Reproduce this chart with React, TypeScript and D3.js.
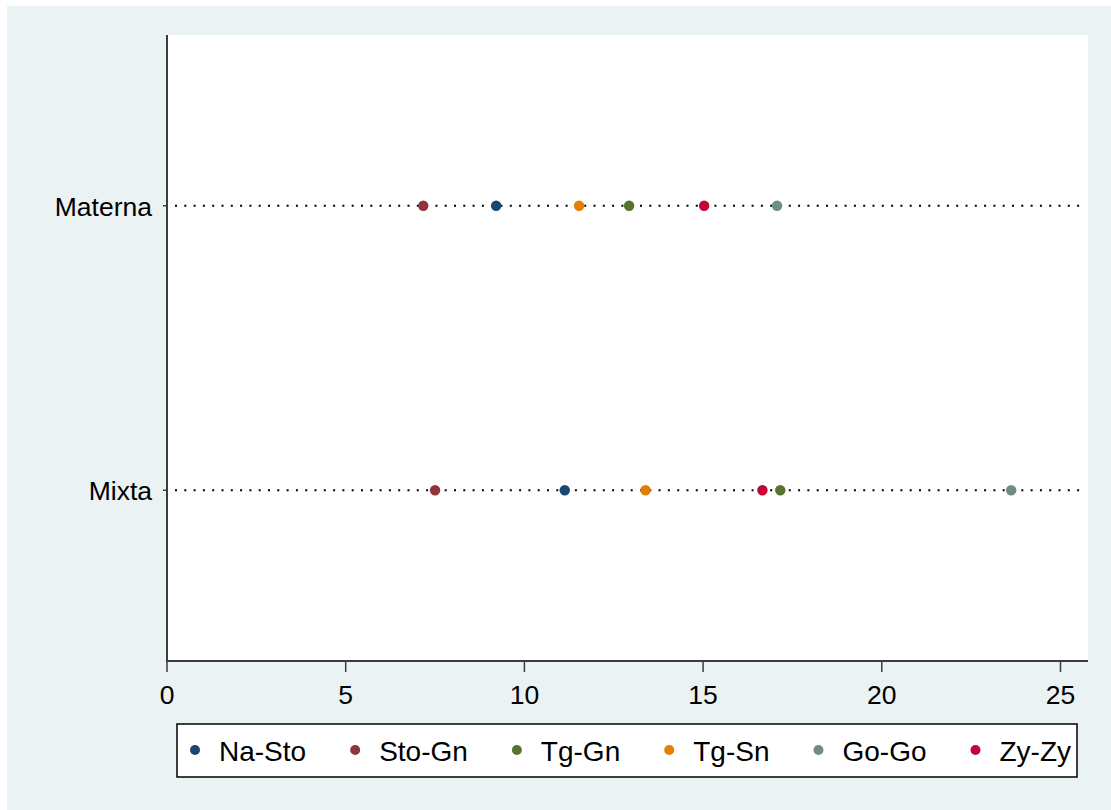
import React, { useEffect, useRef } from 'react';
import * as d3 from 'd3';

// categories on the y axis (top to bottom)
const groups = ['Materna', 'Mixta'];
// series, in legend order
const series = ['Na-Sto', 'Sto-Gn', 'Tg-Gn', 'Tg-Sn', 'Go-Go', 'Zy-Zy'];
const colors = ['#1a476f', '#90353b', '#55752f', '#e37e00', '#6e8e84', '#c10534'];
// values per series, [Materna, Mixta]
const naSto = [9.21, 11.13];
const stoGn = [7.17, 7.50];
const tgGn = [12.93, 17.16];
const tgSn = [11.53, 13.39];
const goGo = [17.07, 23.62];
const zyZy = [15.03, 16.66];
const xTicks = [0, 5, 10, 15, 20, 25];

const App = () => {
  const ref = useRef<SVGSVGElement>(null);

  useEffect(() => {
    const W = 1111, H = 810;
    const svg = d3.select(ref.current);
    svg.selectAll('*').remove();
    const font = '"Liberation Sans", Arial, sans-serif';

    // outer background
    svg.append('rect').attr('x', 7).attr('y', 6).attr('width', W - 7).attr('height', H - 6)
      .attr('fill', '#eaf2f3');

    const plot = { left: 167, right: 1088, top: 35, bottom: 661 };
    svg.append('rect').attr('x', plot.left).attr('y', plot.top)
      .attr('width', plot.right - plot.left).attr('height', plot.bottom - plot.top)
      .attr('fill', '#ffffff');

    const x = d3.scaleLinear().domain([0, 25.77]).range([plot.left, plot.right]);
    const y = d3.scalePoint<string>().domain(groups).range([plot.top, plot.bottom]).padding(0.6);

    // dotted guide lines
    svg.append('g').selectAll('line').data(groups).enter().append('line')
      .attr('x1', plot.left + 8).attr('x2', plot.right - 6)
      .attr('y1', d => y(d)!).attr('y2', d => y(d)!)
      .attr('stroke', '#000').attr('stroke-width', 2)
      .attr('stroke-dasharray', '2,7.3');

    // axes
    const axisColor = '#3c3c3c';
    svg.append('line').attr('x1', plot.left).attr('x2', plot.left)
      .attr('y1', plot.top).attr('y2', plot.bottom + 1)
      .attr('stroke', axisColor).attr('stroke-width', 2);
    svg.append('line').attr('x1', plot.left - 1).attr('x2', plot.right)
      .attr('y1', plot.bottom).attr('y2', plot.bottom)
      .attr('stroke', axisColor).attr('stroke-width', 2);

    const xt = svg.append('g');
    xt.selectAll('line').data(xTicks).enter().append('line')
      .attr('x1', d => x(d)).attr('x2', d => x(d))
      .attr('y1', plot.bottom).attr('y2', plot.bottom + 11)
      .attr('stroke', axisColor).attr('stroke-width', 1.5);
    xt.selectAll('text').data(xTicks).enter().append('text')
      .attr('x', d => x(d)).attr('y', 704)
      .attr('text-anchor', 'middle')
      .style('font-family', font).style('font-size', '26.5px')
      .text(d => d);

    const yt = svg.append('g');
    yt.selectAll('line').data(groups).enter().append('line')
      .attr('x1', plot.left - 4).attr('x2', plot.left)
      .attr('y1', d => y(d)!).attr('y2', d => y(d)!)
      .attr('stroke', axisColor).attr('stroke-width', 1.5);
    yt.selectAll('text').data(groups).enter().append('text')
      .attr('x', 152).attr('y', d => y(d)! + 10)
      .attr('text-anchor', 'end')
      .style('font-family', font).style('font-size', '26.5px')
      .text(d => d);

    // dots
    const values = [naSto, stoGn, tgGn, tgSn, goGo, zyZy];
    const pts = series.flatMap((s, i) => groups.map((g, j) => ({ s, g, v: values[i][j], c: colors[i] })));
    svg.append('g').selectAll('circle').data(pts).enter().append('circle')
      .attr('cx', d => x(d.v)).attr('cy', d => y(d.g)!)
      .attr('r', 5.2).attr('fill', d => d.c);

    // legend
    const leg = { left: 177, right: 1077, top: 724, bottom: 777 };
    svg.append('rect').attr('x', leg.left).attr('y', leg.top)
      .attr('width', leg.right - leg.left).attr('height', leg.bottom - leg.top)
      .attr('fill', '#fff').attr('stroke', '#000').attr('stroke-width', 1.5);
    const cy = (leg.top + leg.bottom) / 2 - 0.5;
    let cx = 195;
    series.forEach((s, i) => {
      svg.append('circle').attr('cx', cx).attr('cy', cy).attr('r', 5).attr('fill', colors[i]);
      const t = svg.append('text').attr('x', cx + 24).attr('y', cy + 11)
        .style('font-family', font).style('font-size', '28px')
        .text(s);
      const w = (t.node() as SVGTextElement).getComputedTextLength();
      cx = cx + 24 + w + 49;
    });
  }, []);

  return (
    <svg ref={ref} width={1111} height={810}
      style={{ position: 'absolute', left: 0, top: 0, background: '#fff' }} />
  );
};

export default App;
